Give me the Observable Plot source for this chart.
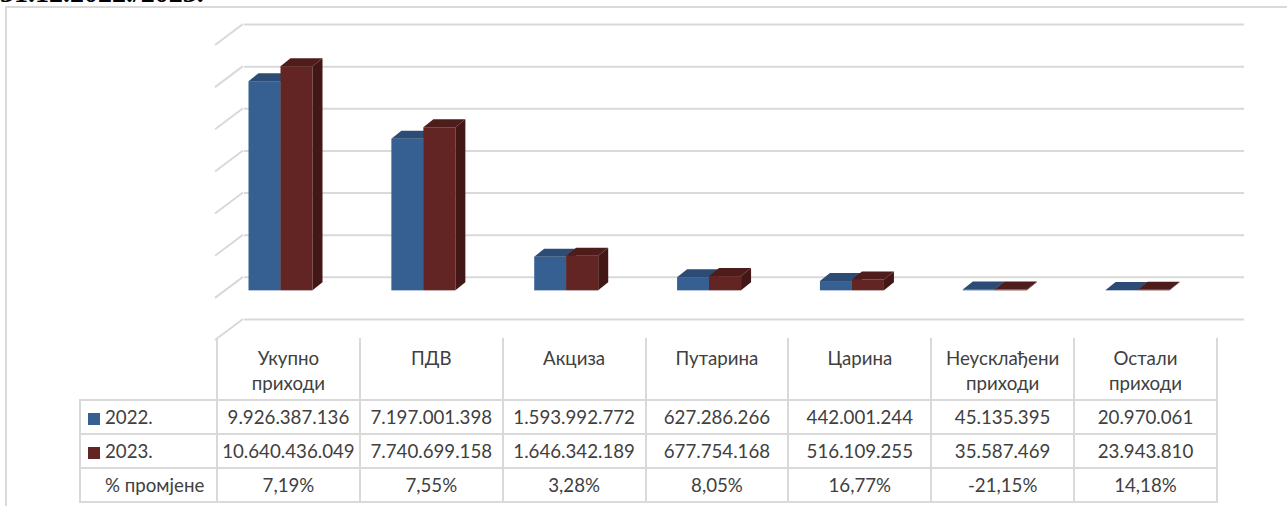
<!DOCTYPE html>
<html><head><meta charset="utf-8">
<script src="https://cdn.jsdelivr.net/npm/d3@7"></script>
<script src="https://cdn.jsdelivr.net/npm/@observablehq/plot@0.6"></script>
<style>
html,body{margin:0;padding:0;background:#fff;width:1287px;height:506px;overflow:hidden;}
#wrap{position:relative;width:1287px;height:506px;overflow:hidden;}
#frame{position:absolute;left:5px;top:6px;width:1400px;height:600px;border:2px solid #d9d9d9;box-sizing:border-box;}
#title{position:absolute;left:0;top:-21px;font:bold 28px "Liberation Serif";line-height:28px;color:#000;white-space:nowrap;}
#chart{position:absolute;left:0;top:0;}
#chart svg{display:block;}
table{position:absolute;left:79px;top:338px;border-collapse:collapse;table-layout:fixed;font-family:Lato;font-size:18.7px;color:#404040;}
td{border:2px solid #d9d9d9;text-align:center;padding:0;white-space:nowrap;}
tr.hdr td{border-top:none;vertical-align:top;padding-top:8px;line-height:25px;height:53px;}
tr.hdr td.corner{border-left:none;}
tr.row td{height:32px;vertical-align:middle;}
td.lab{text-align:left;padding-left:7px;}
.sw{display:inline-block;width:12px;height:12px;margin-right:5px;vertical-align:-1px;}
</style></head>
<body><div id="wrap"><div id="frame"></div><div id="title"></div><div id="chart"></div><table id="tbl"></table></div>
<script>
const titleText = "31.12.2022./2023.";
const categories = ["Укупно приходи", "ПДВ", "Акциза", "Путарина", "Царина", "Неусклађени приходи", "Остали приходи"];
const headerLines = [["Укупно", "приходи"], ["ПДВ"], ["Акциза"], ["Путарина"], ["Царина"], ["Неусклађени", "приходи"], ["Остали", "приходи"]];
const seriesNames = ["2022.", "2023."];
const values2022 = [9926387136, 7197001398, 1593992772, 627286266, 442001244, 45135395, 20970061];
const values2023 = [10640436049, 7740699158, 1646342189, 677754168, 516109255, 35587469, 23943810];
const pctLabel = "% промјене";
const pctChange = ["7,19%", "7,55%", "3,28%", "8,05%", "16,77%", "-21,15%", "14,18%"];
const gridTicks = [-2e9, 0, 2e9, 4e9, 6e9, 8e9, 10e9, 12e9];

document.getElementById("title").textContent = titleText;

const colors = {
  "2022.": {front: "#376092", top: "#2C4C75", side: "#28456B", k: 0},
  "2023.": {front: "#632523", top: "#4E1D1B", side: "#421716", k: 1}
};
const rows = categories.flatMap((c, i) => [
  {cat: c, series: "2022.", value: values2022[i]},
  {cat: c, series: "2023.", value: values2023[i]}
]);

const BAND = 1000 / 7, OFF = 31.5, BW = 32, DX = 10, DY = 8, FDY = 13.5;

function faces(series) {
  return (index, scales) => {
    const g = d3.create("svg:g");
    const st = colors[series];
    rows.filter(r => r.series === series).forEach(r => {
      const x0 = scales.x(r.cat) + OFF + st.k * BW, x1 = x0 + BW;
      const top = scales.y(r.value) + FDY, base = scales.y(0) + FDY;
      g.append("polygon").attr("points", [[x0, top], [x1, top], [x1 + DX, top - DY], [x0 + DX, top - DY]].join(" ")).attr("fill", st.top);
      g.append("polygon").attr("points", [[x1, top], [x1 + DX, top - DY], [x1 + DX, base - DY], [x1, base]].join(" ")).attr("fill", st.side);
    });
    return g.node();
  };
}
function front(series) {
  const st = colors[series];
  return Plot.barY(rows.filter(r => r.series === series), {
    x: "cat", y: "value", fill: st.front, dy: FDY,
    insetLeft: OFF + st.k * BW, insetRight: BAND - OFF - (st.k + 1) * BW
  });
}
const diagonals = (index, scales) => {
  const g = d3.create("svg:g");
  const x0 = scales.x(categories[0]);
  gridTicks.forEach(v => {
    const y = scales.y(v);
    g.append("line").attr("x1", x0 - 2).attr("y1", y + 21).attr("x2", x0 + 26).attr("y2", y)
      .attr("stroke", "#d9d9d9").attr("stroke-width", 2);
  });
  return g.node();
};

const chart = Plot.plot({
  width: 1287, height: 345,
  marginLeft: 217, marginRight: 70, marginTop: 24, marginBottom: 26,
  style: {background: "transparent", overflow: "visible"},
  x: {type: "band", domain: categories, padding: 0, round: false, axis: null},
  y: {domain: [-2e9, 12e9], axis: null},
  marks: [
    Plot.ruleY(gridTicks, {dx: 27, stroke: "#d9d9d9", strokeWidth: 2}),
    diagonals,
    front("2022."), faces("2022."),
    front("2023."), faces("2023.")
  ]
});
document.getElementById("chart").appendChild(chart);

// data table
const fmt = n => String(n).replace(/\B(?=(\d{3})+(?!\d))/g, ".");
const tbl = d3.select("#tbl");
const cg = tbl.append("colgroup");
cg.append("col").style("width", "137px");
categories.forEach(() => cg.append("col").style("width", BAND + "px"));
const hdr = tbl.append("tr").attr("class", "hdr");
hdr.append("td").attr("class", "corner");
headerLines.forEach(lines => hdr.append("td").html(lines.join("<br>")));
[values2022, values2023].forEach((vals, si) => {
  const tr = tbl.append("tr").attr("class", "row");
  const lab = tr.append("td").attr("class", "lab");
  lab.append("span").attr("class", "sw").style("background", colors[seriesNames[si]].front);
  lab.append("span").text(seriesNames[si]);
  vals.forEach(v => tr.append("td").text(fmt(v)));
});
const trp = tbl.append("tr").attr("class", "row");
const labp = trp.append("td").attr("class", "lab");
labp.append("span").attr("class", "sw").style("background", "transparent");
labp.append("span").text(pctLabel);
pctChange.forEach(p => trp.append("td").text(p));
</script>
</body></html>
